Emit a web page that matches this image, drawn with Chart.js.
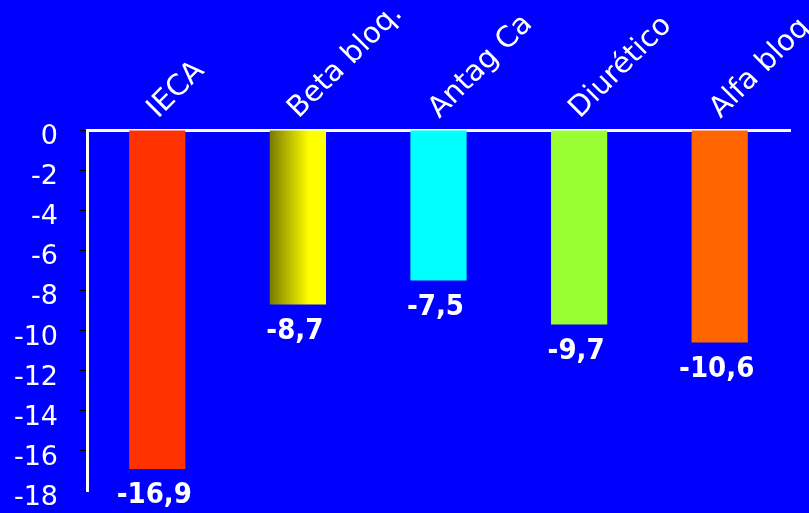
<!DOCTYPE html>
<html>
<head>
<meta charset="utf-8">
<script src="https://cdn.jsdelivr.net/npm/chart.js@4"></script>
<style>
  html, body { margin: 0; padding: 0; background: #0000ff; }
  #wrap { width: 809px; height: 513px; }
</style>
</head>
<body>
<div id="wrap"><canvas id="barChart"></canvas></div>
<script>
// data
var categories = ['IECA', 'Beta bloq.', 'Antag Ca', 'Diurético', 'Alfa bloq.'];
var values = [-16.9, -8.7, -7.5, -9.7, -10.6];
var barColors = ['#ff3300', 'gradient', '#00ffff', '#99ff33', '#ff6600'];
var yTicks = [0, -2, -4, -6, -8, -10, -12, -14, -16, -18];

var barPct = 0.4;

// value labels under each bar, white bold with a decimal comma
var valueLabels = {
    id: 'valueLabels',
    afterDatasetsDraw: function(chart) {
        var ctx = chart.ctx;
        var meta = chart.getDatasetMeta(0);
        ctx.save();
        ctx.fillStyle = '#ffffff';
        ctx.font = 'bold 29px "DejaVu Sans Condensed", "DejaVu Sans", sans-serif';
        ctx.textAlign = 'center';
        ctx.textBaseline = 'middle';
        meta.data.forEach(function(bar, i) {
            var txt = values[i].toFixed(1).replace('.', ',');
            ctx.fillText(txt, bar.x - 3, bar.y + 27);
        });
        ctx.restore();
    }
};

function barFill(context) {
    var i = context.dataIndex;
    if (barColors[i] !== 'gradient') return barColors[i];
    var chart = context.chart;
    var xs = chart.scales.x;
    if (!xs || !chart.chartArea) return '#cccc00';
    var cx = xs.getPixelForValue(i);
    var w = xs.width / categories.length * barPct;
    var g = chart.ctx.createLinearGradient(cx - w / 2, 0, cx + w / 2, 0);
    g.addColorStop(0, '#7a7a00');
    g.addColorStop(0.7, '#ffff00');
    g.addColorStop(1, '#ffff00');
    return g;
}

var chart = new Chart(document.getElementById('barChart').getContext('2d'), {
    type: 'bar',
    data: {
        labels: categories,
        datasets: [{
            data: values,
            backgroundColor: barFill,
            borderWidth: 0,
            categoryPercentage: 1,
            barPercentage: barPct
        }]
    },
    options: {
        responsive: true,
        maintainAspectRatio: false,
        animation: false,
        layout: { padding: { left: 0, right: 19, top: 0, bottom: 22 } },
        plugins: { legend: { display: false }, tooltip: { enabled: false } },
        scales: {
            x: {
                position: 'top',
                afterFit: function(s) {
                    s.height = 130;
                    s.paddingLeft = 0;
                    s.paddingRight = 0;
                },
                grid: { display: false },
                border: { display: true, color: '#ffffff', width: 3 },
                ticks: {
                    color: '#ffffff',
                    minRotation: 45,
                    maxRotation: 45,
                    padding: -4,
                    labelOffset: 20,
                    font: { family: '"DejaVu Sans", sans-serif', size: 29 }
                }
            },
            y: {
                min: -18,
                max: 0,
                afterBuildTicks: function(s) {
                    s.ticks = yTicks.map(function(v) { return { value: v }; });
                },
                afterFit: function(s) {
                    s.width = 87;
                    s.paddingTop = 0;
                    s.paddingBottom = 0;
                },
                grid: { drawOnChartArea: false, color: '#000000', tickLength: 7, tickWidth: 1 },
                border: { display: true, color: '#ffffff', width: 3 },
                ticks: {
                    color: '#ffffff',
                    padding: 22,
                    labelOffset: 7,
                    font: { family: '"DejaVu Sans", sans-serif', size: 27 }
                }
            }
        }
    },
    plugins: [valueLabels]
});
</script>
</body>
</html>
